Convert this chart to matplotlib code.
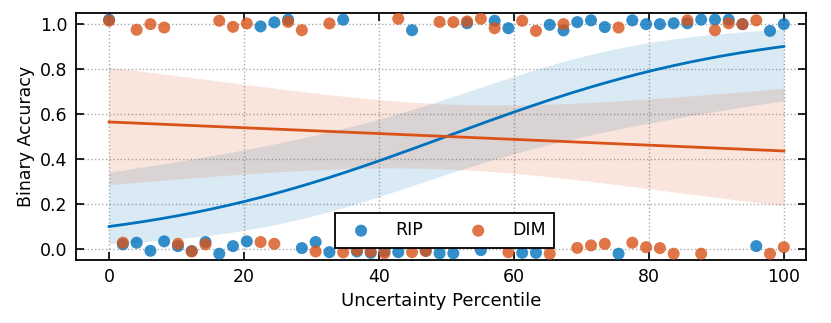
import numpy as np
import matplotlib
matplotlib.use("Agg")
import matplotlib.pyplot as plt

# ---- data ----
n_pts = 50
percentile = np.linspace(0, 100, n_pts)

rip_acc = [1.02, 0.02, 0.027, -0.009, 0.033, 0.012, -0.01, 0.03, -0.022, 0.012,
           0.033, 0.99, 1.008, 1.02, 0.003, 0.03, -0.015, 1.02, -0.012, -0.018,
           -0.01, -0.015, 0.973, -0.009, -0.02, -0.02, 1.004, -0.006, 1.015, 0.982,
           -0.018, -0.018, 0.997, 0.972, 1.009, 1.017, 0.987, -0.022, 1.017, 1.0,
           1.0, 1.004, 1.004, 1.02, 1.02, 1.02, 1.0, 0.012, 0.97, 1.0]
dim_acc = [1.015, 0.027, 0.975, 1.0, 0.985, 0.022, -0.012, 0.02, 1.015, 0.988,
           1.003, 0.03, 0.022, 1.01, 0.973, -0.012, 1.003, -0.016, -0.006, -0.012,
           -0.02, 1.024, -0.015, -0.01, 1.01, 1.009, 1.012, 1.024, 0.982, -0.015,
           1.015, 0.970, -0.022, 1.0, 0.004, 0.015, 0.022, 0.985, 0.027, 0.007,
           0.003, -0.022, 1.017, -0.022, 0.973, 1.004, 1.0, 1.017, -0.022, 0.007]

series_names = ["RIP", "DIM"]
line_colors = ["#0072BD", "#D95319"]


def logistic_fit(x, y):
    X = np.column_stack([np.ones_like(x), x])
    beta = np.zeros(2)
    for _ in range(100):
        p = 1 / (1 + np.exp(-X @ beta))
        W = p * (1 - p)
        H = X.T @ (X * W[:, None])
        g = X.T @ (y - p)
        step = np.linalg.solve(H, g)
        beta = beta + step
        if np.max(np.abs(step)) < 1e-10:
            break
    p = 1 / (1 + np.exp(-X @ beta))
    W = p * (1 - p)
    cov = np.linalg.inv(X.T @ (X * W[:, None]))
    return beta, cov


fig = plt.figure(figsize=(8.31, 3.23), dpi=100)
ax = fig.add_axes([0.0915, 0.195, 0.8785, 0.765])

xg = np.linspace(0, 100, 200)
Xg = np.column_stack([np.ones_like(xg), xg])
for name, vals, col in zip(series_names, [rip_acc, dim_acc], line_colors):
    vals = np.asarray(vals)
    ybin = (vals > 0.5).astype(float)
    beta, cov = logistic_fit(percentile, ybin)
    eta = Xg @ beta
    se = np.sqrt(np.einsum("ij,jk,ik->i", Xg, cov, Xg))
    lo = 1 / (1 + np.exp(-(eta - 2.1 * se)))
    hi = 1 / (1 + np.exp(-(eta + 2.1 * se)))
    mid = 1 / (1 + np.exp(-eta))
    ax.scatter(percentile, vals, s=75, color=col, alpha=0.8, edgecolors="none",
               label=name, zorder=3)
    ax.fill_between(xg, lo, hi, color=col, alpha=0.15, linewidth=0, zorder=1)
    ax.plot(xg, mid, color=col, lw=2, zorder=2)

ax.set_xlim(-4.9, 103.3)
ax.set_ylim(-0.05, 1.05)
ax.set_xticks([0, 20, 40, 60, 80, 100])
ax.set_yticks([0.0, 0.2, 0.4, 0.6, 0.8, 1.0])
ax.grid(True, linestyle=":", color="#aaaaaa", linewidth=1)
ax.set_axisbelow(True)
ax.tick_params(direction="in", top=True, right=True, length=6, width=1.2,
               labelsize=12.5, pad=6)
for sp in ax.spines.values():
    sp.set_linewidth(1.3)
ax.set_xlabel("Uncertainty Percentile", fontsize=13)
ax.set_ylabel("Binary Accuracy", fontsize=12.5)

leg = ax.legend(loc="lower center", bbox_to_anchor=(0.505, 0.049), ncol=2,
                fontsize=12.5, frameon=True, fancybox=False, framealpha=1,
                edgecolor="black", columnspacing=2.2, handletextpad=0.95,
                borderaxespad=0, borderpad=0.5)
leg.get_frame().set_linewidth(1.3)
leg.set_zorder(5)

fig.savefig("out.png", dpi=100)
